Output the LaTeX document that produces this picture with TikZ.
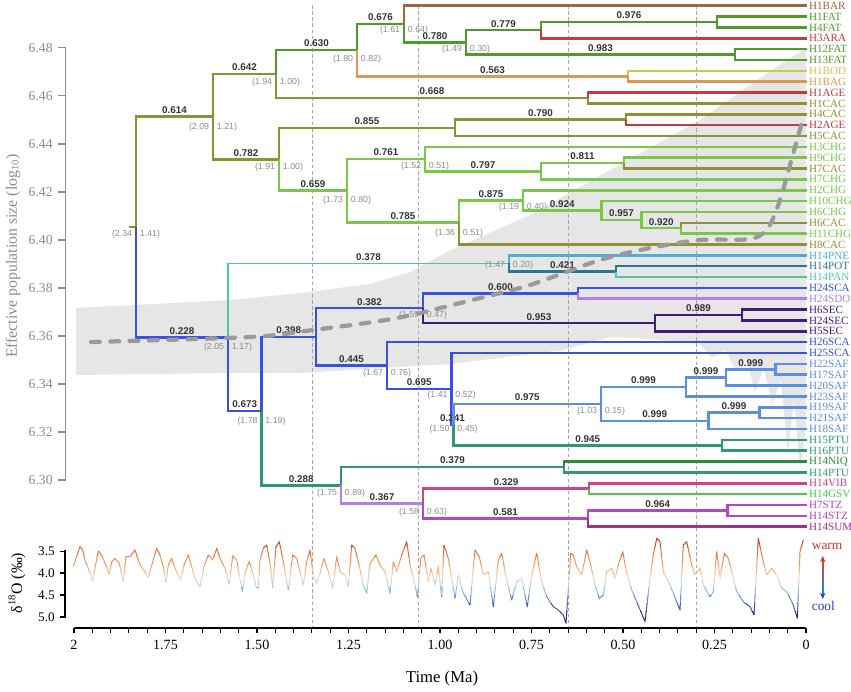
\documentclass[tikz,border=0pt]{standalone}
\usepackage{fontspec}
\setmainfont{Liberation Serif}
\setsansfont{Liberation Sans}
\usetikzlibrary{arrows.meta}
\usetikzlibrary{calc}

\definecolor{cBAR}{HTML}{9B6A3C}
\definecolor{cFAT}{HTML}{4E9A2C}
\definecolor{cRED}{HTML}{C93A3C}
\definecolor{cBOD}{HTML}{C3CD48}
\definecolor{cBAG}{HTML}{DA9A52}
\definecolor{cCAC}{HTML}{8E9230}
\definecolor{cCHG}{HTML}{78C84A}
\definecolor{cPNE}{HTML}{4AAEDB}
\definecolor{cPOT}{HTML}{2A7890}
\definecolor{cPAN}{HTML}{4CC8A8}
\definecolor{cSCA}{HTML}{3A4EE8}
\definecolor{cSDO}{HTML}{B07EF0}
\definecolor{cSEC}{HTML}{3C1E7A}
\definecolor{cSAF}{HTML}{5B8FDF}
\definecolor{cPTU}{HTML}{2E9A74}
\definecolor{cNIQ}{HTML}{2C8C3C}
\definecolor{cVIB}{HTML}{D0448C}
\definecolor{cGSV}{HTML}{4CC84C}
\definecolor{cSTZ}{HTML}{B048C8}
\definecolor{cSUM}{HTML}{A03090}
\definecolor{axgray}{HTML}{8C8C8C}
\definecolor{bandgray}{HTML}{E6E6E6}
\definecolor{medgray}{HTML}{9A9A9A}
\definecolor{cWarm}{HTML}{D7302A}
\definecolor{cCool}{HTML}{2A3AD0}

\tikzset{
  br/.style      = {line width=1.45pt},
  thinpan/.style = {cPAN, line width=0.9pt},
  tip/.style     = {anchor=west, inner xsep=1pt, inner ysep=0pt, font=\fontsize{6.3}{7}\selectfont},
  sup/.style     = {above, inner sep=1pt, font=\sffamily\bfseries\fontsize{5.6}{6}\selectfont, text=black!80},
  rng/.style     = {inner sep=0pt, font=\sffamily\fontsize{5}{6}\selectfont, text=axgray},
  vdash/.style   = {gray!70, line width=0.4pt, dash pattern=on 2pt off 1.5pt},
  median/.style  = {medgray, line width=2.4pt, line cap=round, dash pattern=on 5pt off 6pt},
  neaxis/.style  = {anchor=east, inner sep=0pt, text=axgray, font=\fontsize{7.8}{9}\selectfont},
  dOaxis/.style  = {anchor=east, inner sep=0pt, font=\fontsize{7.5}{9}\selectfont},
  tlab/.style    = {inner sep=0pt, font=\fontsize{8}{9}\selectfont}
}

\def\dOcurve{(73.3,566.7) -- (76,558.3) -- (80,546.7) -- (82.7,550) -- (85,560) -- (88.3,568.3) -- (92.7,581) -- (95,568) -- (98.3,551) -- (101.7,555) -- (105,563.3) -- (109.3,574.3) -- (111.7,561.7) -- (115,558.3) -- (119.3,563.3) -- (123.3,581.7) -- (126,556.7) -- (130,556.7) -- (135,550) -- (140,565) -- (145,571.7) -- (148.3,577.7) -- (152.7,561.7) -- (156.7,548.3) -- (160,555) -- (163.3,566.7) -- (166,582.7) -- (168.3,565) -- (171.7,558.3) -- (175,568.3) -- (180.7,580) -- (184,565) -- (188.3,555) -- (191.7,566.7) -- (195,578.3) -- (200,586.7) -- (204,566.7) -- (208.3,555) -- (212.7,560) -- (216.7,548.3) -- (220,558.3) -- (225,568.3) -- (229.3,584.3) -- (232.7,555.7) -- (236.7,560) -- (242.3,591.7) -- (245,573.3) -- (249.3,561) -- (255,581.7) -- (256,586.7) -- (258.3,588.3) -- (260,560) -- (263.3,548.3) -- (266.7,545) -- (270,563.3) -- (272.7,587.7) -- (276,546.7) -- (279.3,541.7) -- (283.3,561.7) -- (288.3,590) -- (292.7,555) -- (296.7,558.3) -- (300,571.7) -- (303.3,585) -- (306.7,561.7) -- (310,550) -- (313.3,575) -- (316.7,583.3) -- (320,573.3) -- (324,558.3) -- (327.3,568.3) -- (332.7,587.7) -- (336.7,556.7) -- (340,571.7) -- (345,575) -- (348.3,586.7) -- (351.7,545) -- (355,548.3) -- (358.3,561.7) -- (363.3,585) -- (366.7,593.3) -- (370,563.3) -- (376,555) -- (380,565) -- (385,571.7) -- (390,593.3) -- (393.3,561.7) -- (396.7,571.7) -- (401.7,555) -- (406.7,541.7) -- (410,565) -- (415,585) -- (417.3,596.7) -- (420.7,558.3) -- (424,555) -- (428.3,581.7) -- (431,568.3) -- (435,585) -- (438.3,566.7) -- (441.7,596.7) -- (444,545) -- (448.3,558.3) -- (451.7,578.3) -- (455,598.3) -- (458.3,575) -- (463.3,593.3) -- (470,605) -- (475,550) -- (479.3,556.7) -- (483.3,575) -- (488.3,571.7) -- (493.3,606.7) -- (498.3,560) -- (501.7,553.3) -- (506.7,580) -- (511.7,600) -- (516.7,581.7) -- (521.7,578.3) -- (527.3,606.7) -- (531.7,575) -- (536.7,553.3) -- (541.7,581.7) -- (546.7,596.7) -- (553.3,606.7) -- (558.3,610) -- (563.3,615) -- (566,623.3) -- (570.7,553.3) -- (573.3,555) -- (576.7,566.7) -- (581.7,575) -- (586.7,550) -- (590,561.7) -- (595,585) -- (599.3,598.3) -- (603.3,595) -- (606.7,571.7) -- (611.7,568.3) -- (615,578.3) -- (618.3,565) -- (622.7,551.7) -- (626.7,573.3) -- (631.7,590) -- (636.7,601.7) -- (645,621.7) -- (650,578.3) -- (653.3,555) -- (656.7,538.3) -- (660,541.7) -- (663.3,571.7) -- (670,585) -- (680,610) -- (683.3,545) -- (686.7,541.7) -- (691.7,565) -- (695,575) -- (700,568.3) -- (703.3,585) -- (710,596.7) -- (713.3,591.7) -- (716.7,551.7) -- (720,578.3) -- (724.3,553.3) -- (728.3,558.3) -- (731.7,571.7) -- (736.7,591.7) -- (743.3,601.7) -- (750,606.7) -- (754,615) -- (758.3,538.3) -- (763.3,561.7) -- (766.7,575) -- (771.7,568.3) -- (776.7,575) -- (781.7,588.3) -- (786.7,591.7) -- (793.3,605) -- (797.3,618.3) -- (800,551.7) -- (803.3,540)}

\begin{document}
\begin{tikzpicture}[x=0.02cm, y=-0.02cm]
\useasboundingbox (0,0) rectangle (851,691);

%% ------------------------------------------------------------ [ skyline band ]
\fill[bandgray] (76,308) -- (230,300) -- (300,293) -- (370,284) -- (410,272)
  -- (447,252) -- (530,215) -- (610,170) -- (700,120) -- (760,78) -- (787,60)
  -- (806,48) -- (806,430) -- (800,468) -- (794,400) -- (788,455) -- (781,380)
  -- (772,405) -- (764,368) -- (755,392) -- (746,358) -- (736,372) -- (726,350)
  -- (712,358) -- (700,344) -- (650,339) -- (610,337) -- (563,350) -- (450,364)
  -- (300,373) -- (230,373) -- (76,375) -- cycle;

% time slices
\foreach \tm in {1.35,1.06,0.65,0.30}
  \draw[vdash] ({806-366*\tm},5) -- ({806-366*\tm},628);

%% ------------------------------------------------------------------ [ Ne axis ]
\draw[axgray, line width=0.9pt] (65.7,47.7) -- (65.7,479.7);
\foreach \v [count=\i from 0] in {6.48,6.46,6.44,6.42,6.40,6.38,6.36,6.34,6.32,6.30} {
  \draw[axgray, line width=0.9pt] (58,{47.7+48*\i}) -- (65.7,{47.7+48*\i});
  \node[neaxis] at (53,{47.7+48*\i}) {\v};
}
\node (netitle) [rotate=90, text=axgray, font=\fontsize{9}{10}\selectfont]
  at (13,256) {Effective population size (log\textsubscript{10})};

%% ------------------------------------------------------------ [ internal nodes ]
\foreach \n/\x/\y in {root/136/226.95, n614/213/116.6, n642/276/74.0, n630/357/50.1,
    n676/404/24.0, n780/466/42.35, n779/541/30.15, n976/717/22.0, n983/735/54.55,
    n563/628/76.25, n668/588/97.95, n782/279/159.25, n855/455/127.8, n790/626/119.65,
    n659/347/190.7, n761/425/159.0, n797/541/171.25, n811/624/163.1, n785/459/222.45,
    n875/523/200.4, n924/601.5/210.6, n957/641.5/220.05, n920/681/228.2,
    n228/228/337.3, n378/509/263.45, n421/616/271.6, n673/261.5/411.1,
    n398/316/336.85, n382/423/308.2, n600/578/293.3, n953/655/323.15, n989/742/315.0,
    n445/387/365.5, n695/451.5/388.8, n341/453.5/424.6, n975/601/403.9,
    n999a/686/386.9, n999b/726/377.45, n999c/775.5/369.3, n999d/708.5/420.85,
    n999e/759.5/412.7, n945/722/445.25, n288/341/485.3, n379/564/466.95,
    n367/423/503.6, n329/589/488.65, n581/588/518.5, n964/727.5/510.35}
  \coordinate (\n) at (\x,\y);
\coordinate (rootstub) at (129,226.95);

%% ---------------------------------------------------------------- [ branches ]
\draw[br, cCAC] (rootstub) -- (root);
\foreach \p/\c/\col/\s in {root/n614/cCAC/0.614, n614/n642/cCAC/0.642,
    n642/n630/cFAT/0.630, n630/n676/cFAT/0.676, n676/n780/cFAT/0.780,
    n780/n779/cFAT/0.779, n779/n976/cFAT/0.976, n780/n983/cFAT/0.983,
    n630/n563/cBAG/0.563, n642/n668/cCAC/0.668, n614/n782/cCAC/0.782,
    n782/n855/cCAC/0.855, n855/n790/cCAC/0.790, n782/n659/cCHG/0.659,
    n659/n761/cCHG/0.761, n761/n797/cCHG/0.797, n797/n811/cCHG/0.811,
    n659/n785/cCHG/0.785, n785/n875/cCHG/0.875, n875/n924/cCHG/0.924,
    n924/n957/cCHG/0.957, n957/n920/cCHG/0.920,
    root/n228/cSCA/0.228, n228/n378/thinpan/0.378, n378/n421/cPOT/0.421,
    n228/n673/cSCA/0.673, n673/n398/cSCA/0.398, n398/n382/cSCA/0.382,
    n382/n600/cSCA/0.600, n382/n953/cSEC/0.953, n953/n989/cSEC/0.989,
    n398/n445/cSCA/0.445, n445/n695/cSCA/0.695, n695/n341/cSCA/0.341,
    n341/n975/cSAF/0.975, n975/n999a/cSAF/0.999, n999a/n999b/cSAF/0.999,
    n999b/n999c/cSAF/0.999, n975/n999d/cSAF/0.999, n999d/n999e/cSAF/0.999,
    n341/n945/cPTU/0.945, n673/n288/cPTU/0.288, n288/n379/cPTU/0.379,
    n288/n367/cSDO/0.367, n367/n329/cVIB/0.329, n367/n581/cSTZ/0.581,
    n581/n964/cSTZ/0.964}
  \draw[br, \col] (\p) |- node[sup, pos=.75] {\s} (\c);

%% -------------------------------------------------------------------- [ tips ]
\foreach \tp/\p/\col [count=\i from 0] in {H1BAR/n676/cBAR, H1FAT/n976/cFAT,
    H4FAT/n976/cFAT, H3ARA/n779/cRED, H12FAT/n983/cFAT, H13FAT/n983/cFAT,
    H1BOD/n563/cBOD, H1BAG/n563/cBAG, H1AGE/n668/cRED, H1CAC/n668/cCAC,
    H4CAC/n790/cCAC, H2AGE/n790/cRED, H5CAC/n855/cCAC, H3CHG/n761/cCHG,
    H9CHG/n811/cCHG, H7CAC/n811/cCAC, H7CHG/n797/cCHG, H2CHG/n875/cCHG,
    H10CHG/n924/cCHG, H6CHG/n957/cCHG, H6CAC/n920/cCAC, H11CHG/n920/cCHG,
    H8CAC/n785/cCAC, H14PNE/n378/cPNE, H14POT/n421/cPOT, H14PAN/n421/cPAN,
    H24SCA/n600/cSCA, H24SDO/n600/cSDO, H6SEC/n989/cSEC, H24SEC/n989/cSEC,
    H5SEC/n953/cSEC, H26SCA/n445/cSCA, H25SCA/n695/cSCA, H22SAF/n999c/cSAF,
    H17SAF/n999c/cSAF, H20SAF/n999b/cSAF, H23SAF/n999a/cSAF, H19SAF/n999e/cSAF,
    H21SAF/n999e/cSAF, H18SAF/n999d/cSAF, H15PTU/n945/cPTU, H16PTU/n945/cPTU,
    H14NIQ/n379/cNIQ, H14PTU/n379/cPTU, H14VIB/n329/cVIB, H14GSV/n329/cGSV,
    H7STZ/n964/cSTZ, H14STZ/n964/cSTZ, H14SUM/n581/cSUM} {
  \node[tip, text=\col] (\tp) at (807,{5.7+10.854*\i}) {\tp};
  \draw[br, \col] (\p) |- (\tp.west);
}

% node age ranges
\foreach \n/\a/\b/\dy in {root/2.34/1.41/7.5, n614/2.09/1.21/10.4, n642/1.94/1.00/8,
    n630/1.80/0.82/9, n676/1.61/0.64/6.5, n780/1.49/0.30/6.7, n782/1.91/1.00/7.8,
    n659/1.73/0.80/9.3, n761/1.52/0.51/7, n785/1.36/0.51/10.5, n875/1.19/0.40/6.6,
    n228/2.05/1.17/9.7, n378/1.47/0.20/1.5, n673/1.78/1.19/10, n382/1.59/0.47/6.8,
    n445/1.67/0.76/7.5, n695/1.41/0.52/6.2, n341/1.50/0.45/4.4, n975/1.03/0.15/7.1,
    n288/1.75/0.89/7.7, n367/1.58/0.63/8.4}
  \node[rng] at ($(\n)+(0,\dy)$) {(\a\hspace{4.5pt}\b)};

% skyline median
\draw[median] plot[smooth, tension=0.5] coordinates {(91,342) (250,337) (313,330)
  (397,318) (480,298) (530,285) (600,260) (650,248) (700,240) (750,239) (768,228)
  (780,200) (790,165) (802,122)};

%% ----------------------------------------------------------------- [ d18O ]
\draw[line width=1pt] (65,550) -- (65,617.5);
\foreach \v [count=\i from 0] in {3.5,4.0,4.5,5.0} {
  \draw[line width=1pt] (60,{551.5+21.8*\i}) -- (65,{551.5+21.8*\i});
  \node[dOaxis] at (55,{551.5+21.8*\i}) {\v};
}
\node (dotitle) [rotate=90, font=\fontsize{9}{10}\selectfont]
  at (17,583) {δ\textsuperscript{18}O (‰)};

\foreach \ya/\yb/\col in {520/547/D8402E, 547/556/E8703E, 556/566/EE9455,
    566/574/F3B688, 574/580/F2D6BC, 580/587/B8D8EC, 587/595/88BCE2,
    595/603/6A86C8, 603/611/4E4EA8, 611/630/332A80} {
  \begin{scope}
    \clip (70,\ya) rectangle (810,\yb);
    \definecolor{band}{HTML}{\col}
    \draw[band, line width=0.55pt, line join=round] \dOcurve;
  \end{scope}
}

\node (warm) [anchor=west, inner sep=0pt, text=cWarm, font=\fontsize{7.6}{9}\selectfont]
  at (811.5,546.7) {warm};
\node (cool) [anchor=west, inner sep=0pt, text=cCool, font=\fontsize{7.6}{9}\selectfont]
  at (811.5,605.7) {cool};
\coordinate (wtip) at (822.7,556);
\coordinate (ctip) at (822.7,599);
\shade[top color=cWarm!80!orange, middle color=orange!40, bottom color=cCool!60!cyan]
  (822,560) rectangle (823.4,595);
\draw[cWarm, -{Stealth[length=3.5pt, width=3pt]}] ($(wtip)+(0,5)$) -- (wtip);
\draw[cCool, -{Stealth[length=3.5pt, width=3pt]}] ($(ctip)+(0,-5)$) -- (ctip);

%% -------------------------------------------------------------- [ time axis ]
\draw[line width=1.2pt] (74,628) -- (806,628);
\foreach \k in {0,...,40}
  \draw[line width=0.6pt] ({74+18.3*\k},628) -- ({74+18.3*\k},633);
\foreach \lab [count=\i from 0] in {2,1.75,1.50,1.25,1.00,0.75,0.50,0.25,0}
  \node[tlab] at ({74+91.5*\i},645) {\lab};
\node (timetitle) [font=\fontsize{9.5}{11}\selectfont] at (442,678) {Time (Ma)};
\end{tikzpicture}
\end{document}
